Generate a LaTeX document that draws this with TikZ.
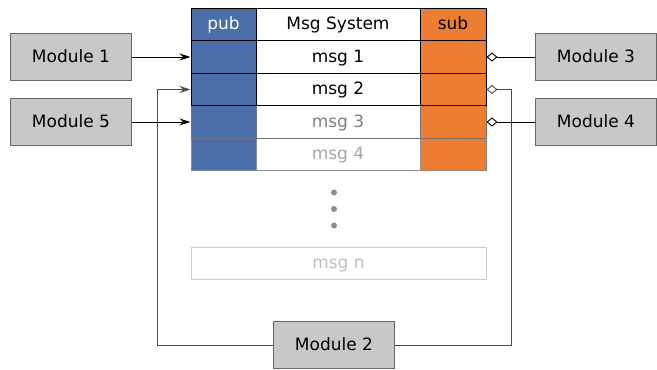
\documentclass[tikz,border=0pt]{standalone}
\usepackage{fontspec}
\setmainfont{DejaVu Sans}
\usepackage{xcolor}
\usetikzlibrary{arrows.meta}

\definecolor{pubblue}{RGB}{74,110,170}
\definecolor{suborange}{RGB}{237,125,49}
\definecolor{modgray}{RGB}{200,200,200}

\begin{document}
\begin{tikzpicture}[x=1pt, y=-1pt,
  every node/.style={font=\fontsize{17}{20}\selectfont, inner sep=0pt, text height=13pt, text depth=2.5pt},
  cell/.style={draw, rectangle, line width=1pt, minimum height=32.5pt},
  pubcell/.style={cell, fill=pubblue, minimum width=65pt},
  msgcell/.style={cell, fill=white, minimum width=164pt},
  subcell/.style={cell, fill=suborange, minimum width=66pt},
  module/.style={draw=black!60, fill=modgray, line width=1.4pt, minimum width=121pt, minimum height=47pt},
  dot/.style={circle, fill=black!45, minimum size=6pt, text height=0pt, text depth=0pt},
  pubarrow/.style={-{Stealth[length=11pt,width=7pt]}, line width=0.9pt},
  subline/.style={{Diamond[open,length=11pt,width=9pt]}-, line width=0.9pt}]
\useasboundingbox (0,0) rectangle (657,370);

% nodes %
\node[pubcell, draw=black!45] (p4) at (223.5,154.5) {};
\node[msgcell, draw=black!45, text=black!35] (g4) at (338,154.5) {msg 4};
\node[subcell, draw=black!45] (s4) at (453,154.5) {};
\node[pubcell, draw=black!55] (p3) at (223.5,122) {};
\node[msgcell, draw=black!55, text=black!50] (g3) at (338,122) {msg 3};
\node[subcell, draw=black!55] (s3) at (453,122) {};
\node[pubcell] (p2) at (223.5,89.5) {};
\node[msgcell] (g2) at (338,89.5) {msg 2};
\node[subcell] (s2) at (453,89.5) {};
\node[pubcell] (p1) at (223.5,57) {};
\node[msgcell] (g1) at (338,57) {msg 1};
\node[subcell] (s1) at (453,57) {};
\node[pubcell, text=white] (ph) at (223.5,24.5) {pub};
\node[msgcell] (gh) at (338,24.5) {Msg System};
\node[subcell] (sh) at (453,24.5) {sub};

\node[dot] (d1) at (334,192.5) {};
\node[dot] (d2) at (334,209) {};
\node[dot] (d3) at (334,225.5) {};
\node[cell, draw=black!20, text=black!25, minimum width=295pt, minimum height=32pt] (gn) at (338.5,263) {msg n};

\node[module] (m1) at (71,57) {Module 1};
\node[module] (m5) at (71,122) {Module 5};
\node[module] (m3) at (596,57) {Module 3};
\node[module] (m4) at (596,122) {Module 4};
\node[module] (m2) at (334,345) {Module 2};

\coordinate (m2l) at (157,345);
\coordinate (m2r) at (511,345);

% edges %
\draw[pubarrow] (m1) -- (p1);
\draw[pubarrow] (m5) -- (p3);
\draw[pubarrow, black!70] (m2.west) -- (m2l) |- (p2.west);
\draw[subline] (s1.east) -- (m3);
\draw[subline] (s3.east) -- (m4);
\draw[subline, black!70] (s2.east) -| (m2r) -- (m2.east);
\end{tikzpicture}
\end{document}
